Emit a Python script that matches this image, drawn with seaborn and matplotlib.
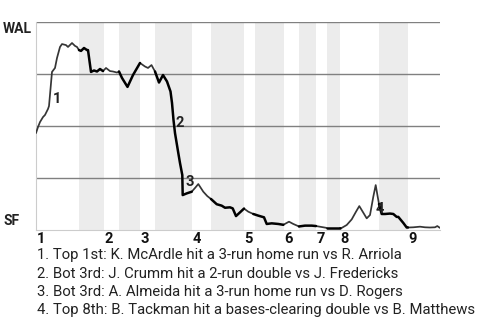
import numpy as np
import pandas as pd
import matplotlib
matplotlib.use("Agg")
import matplotlib.pyplot as plt
import seaborn as sns

# ---- data ----
# game progress (arbitrary play units) and WAL win probability (%)
progress = [0, 2, 4, 7, 9, 12, 13, 16, 19, 21, 24, 26, 30, 32, 36, 39, 41, 43,
            45, 48, 51, 52, 55, 58, 61, 64, 67,
            70, 74, 77, 81, 83,
            86, 91.5, 97, 104,
            109, 112, 115.5, 119,
            123, 127, 131, 134.5, 136, 137.5, 139, 142.3, 144, 146.3, 146.7, 150.7, 155.7,
            159, 162.3, 167.3, 171.3, 175,
            180.7, 185.7, 189, 194, 196.7, 200, 204.7, 208,
            212.3, 217.3,
            222.3, 228, 230.7, 235.7, 242.3, 247.3,
            253, 257.3, 263,
            269, 275.7, 280,
            287.3, 290.7,
            304,
            305.7, 310.7, 315.7, 320, 323.3, 326.7, 330.7, 334, 337.3, 339.7, 341.7, 343,
            345.7, 349, 354, 357.3, 360.7, 362.3, 367.3, 370.7, 372,
            377.3, 384, 389, 394, 399, 401.3, 404]
wal_prob = [46.6, 49.5, 51.9, 54.3, 55.3, 58.2, 59.6, 76.0, 77.9, 82.7, 88.0, 89.4, 88.9, 88.0, 89.9, 88.5, 88.0, 86.5,
            86.1, 87.5, 86.5, 86.5, 76.0, 76.7, 76.2, 77.4, 76.4,
            77.9, 76.4, 76.2, 75.7, 76.2,
            73.1, 68.8, 74.5, 80.3,
            78.6, 77.9, 79.3, 76.2,
            70.9, 74.5, 71.4, 66.6, 61.1, 52.9, 46.6, 37.0, 32.2, 26.4, 16.8, 17.6, 18.4,
            20.2, 22.1, 18.4, 16.3, 14.9,
            12.4, 11.7, 10.7, 10.9, 10.4, 6.7, 8.8, 10.3,
            8.8, 7.7,
            6.9, 6.1, 2.9, 3.2, 2.9, 2.5,
            4.0, 2.9, 1.7,
            2.1, 2.1, 1.9,
            1.3, 1.0,
            1.0,
            1.0, 2.4, 5.1, 8.8, 11.5, 8.8, 5.6, 7.2, 16.0, 21.6, 16.0, 12.5,
            7.7, 7.7, 7.9, 7.7, 6.3, 6.3, 3.4, 1.2, 1.2,
            1.3, 1.6, 1.3, 1.2, 1.3, 1.9, 1.0]

# half-inning boundaries (same progress units); even index = top half, odd = bottom half
half_starts = [0, 43, 68, 83, 104, 119, 156, 175, 208, 219, 248, 263, 280, 291, 304, 343, 372]
game_end = 404
inning_labels = ["1", "2", "3", "4", "5", "6", "7", "8", "9"]

teams = ["WAL", "SF"]
event_marks = ["1", "2", "3", "4"]
event_texts = [
    "1. Top 1st: K. McArdle hit a 3-run home run vs R. Arriola",
    "2. Bot 3rd: J. Crumm hit a 2-run double vs J. Fredericks",
    "3. Bot 3rd: A. Almeida hit a 3-run home run vs D. Rogers",
    "4. Top 8th: B. Tackman hit a bases-clearing double vs B. Matthews",
]

# ---- build long table: one unit per half inning ----
x = np.array(progress, dtype=float)
y = np.array(wal_prob, dtype=float)
bounds = half_starts + [game_end]
rows = []
for i in range(len(half_starts)):
    lo, hi = bounds[i], bounds[i + 1]
    idx = list(np.where((x >= lo) & (x <= hi))[0])
    if idx and idx[0] > 0 and x[idx[0]] > lo:
        idx = [idx[0] - 1] + idx
    side = "top" if i % 2 == 0 else "bot"
    for j in idx:
        rows.append({"progress": x[j], "prob": y[j], "half": i, "side": side})
df = pd.DataFrame(rows)

# ---- figure ----
sns.set_theme(style="white")
plt.rcParams["font.family"] = ["Roboto", "DejaVu Sans"]

W, H = 480, 320
fig = plt.figure(figsize=(W / 100, H / 100), dpi=100)
ax = fig.add_axes([36 / W, 1 - 230 / H, 404 / W, 208 / H])

for i in range(1, len(half_starts), 2):
    ax.axvspan(bounds[i], bounds[i + 1], color="#ececec", lw=0, zorder=0)

for g in [25, 50, 75, 100]:
    ax.axhline(g, color="#808080", lw=1.0, zorder=1)

sns.lineplot(data=df, x="progress", y="prob", units="half", estimator=None,
             hue="side", palette={"top": "#363636", "bot": "#000000"},
             size="side", sizes={"top": 1.25, "bot": 1.8},
             sort=False, legend=False, ax=ax, zorder=3)

ax.set_xlim(0, game_end)
ax.set_ylim(0, 100)
ax.set_xticks([])
ax.set_yticks([])
ax.set_xlabel("")
ax.set_ylabel("")
for s in ["top", "right"]:
    ax.spines[s].set_visible(False)
for s in ["left", "bottom"]:
    ax.spines[s].set_color("#cccccc")
    ax.spines[s].set_linewidth(0.8)

# event markers on the line
mark_pos = [(17, 61), (140, 49.7), (149, 21.2), (340, 8.3)]
for m, (mx, my) in zip(event_marks, mark_pos):
    ax.text(mx, my, m, ha="left", va="baseline", fontsize=10.5,
            fontweight="bold", color="#222222", zorder=4)

# inning labels under the axis
trans = matplotlib.transforms.blended_transform_factory(ax.transData, fig.transFigure)
for k, lab in enumerate(inning_labels):
    ax.text(half_starts[2 * k] + 0.5, 1 - 243 / H, lab, transform=trans,
            ha="left", va="baseline", fontsize=10.5, fontweight="bold", color="#111111")

# team labels
fig.text(3 / W, 1 - 33 / H, teams[0], ha="left", va="baseline",
         fontsize=10, fontweight="bold", color="#222222")
fig.text(3 / W, 1 - 225 / H, teams[1], ha="left", va="baseline",
         fontsize=10, fontweight="bold", color="#222222")

# event descriptions
for k, t in enumerate(event_texts):
    fig.text(37 / W, 1 - (259.5 + 18.3 * k) / H, t, ha="left", va="baseline",
             fontsize=10.75, color="#222222")

fig.savefig("out.png", dpi=100)
